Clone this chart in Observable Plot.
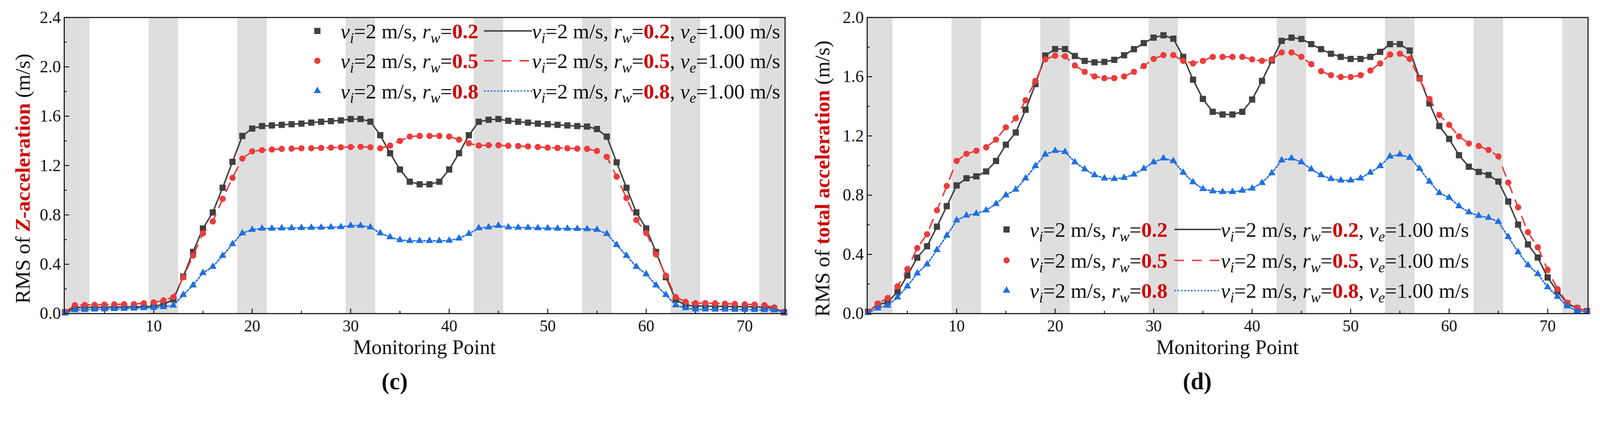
<!DOCTYPE html>
<html>
<head>
<meta charset="utf-8">
<script src="https://cdn.jsdelivr.net/npm/d3@7"></script>
<script src="https://cdn.jsdelivr.net/npm/@observablehq/plot@0.6"></script>
<style>
  html, body { margin: 0; padding: 0; background: #fff; overflow: hidden; }
  #wrap { display: flex; width: 100vw; }
  #wrap svg { width: 50vw; max-width: none; height: auto; display: block; }
  svg text { font-family: "Liberation Serif", "Times New Roman", serif; }
</style>
</head>
<body>
<div id="wrap"><div id="c"></div><div id="d"></div></div>
<script>
// monitoring points 1..74
const points = d3.range(1, 75);

// shaded zones along the track
const bandFrom = [0.5, 9.5, 18.5, 29.5, 42.5, 53.5, 62.5, 71.5];
const bandTo   = [3.5, 12.5, 21.5, 32.5, 45.5, 56.5, 65.5, 74.5];

const xMajor = [10, 20, 30, 40, 50, 60, 70];
const xMinor = [5, 15, 25, 35, 45, 55, 65];

// (c) RMS of Z-acceleration
const zRw02 = [0.01,0.05,0.05,0.052,0.052,0.053,0.054,0.055,0.056,0.058,0.075,0.115,0.30,0.50,0.69,0.82,1.02,1.23,1.44,1.50,
  1.52,1.525,1.53,1.535,1.54,1.548,1.555,1.56,1.566,1.577,1.577,1.556,1.446,1.30,1.168,1.069,1.048,1.048,1.069,1.168,
  1.30,1.446,1.555,1.571,1.577,1.563,1.555,1.548,1.54,1.535,1.53,1.525,1.52,1.516,1.496,1.435,1.226,1.02,0.82,0.69,
  0.50,0.295,0.113,0.068,0.062,0.06,0.06,0.058,0.057,0.056,0.055,0.052,0.04,0.01];
const zRw05 = [0.015,0.068,0.07,0.071,0.073,0.075,0.076,0.077,0.084,0.09,0.107,0.134,0.295,0.47,0.65,0.747,0.93,1.10,1.257,1.315,
  1.325,1.33,1.335,1.337,1.34,1.34,1.343,1.345,1.348,1.35,1.352,1.348,1.34,1.362,1.40,1.435,1.44,1.44,1.44,1.435,
  1.41,1.38,1.362,1.365,1.365,1.36,1.358,1.355,1.35,1.345,1.343,1.34,1.337,1.335,1.318,1.27,1.11,0.937,0.758,0.653,
  0.48,0.307,0.134,0.095,0.085,0.085,0.083,0.08,0.078,0.075,0.073,0.068,0.05,0.01];
const zRw08 = [0.005,0.029,0.032,0.034,0.036,0.038,0.04,0.042,0.045,0.048,0.054,0.066,0.152,0.23,0.33,0.38,0.47,0.564,0.652,0.68,
  0.69,0.69,0.692,0.694,0.695,0.697,0.698,0.70,0.702,0.713,0.713,0.70,0.652,0.62,0.597,0.59,0.59,0.59,0.59,0.592,
  0.61,0.647,0.693,0.70,0.713,0.70,0.698,0.697,0.694,0.692,0.69,0.689,0.687,0.686,0.68,0.647,0.557,0.47,0.38,0.32,
  0.23,0.152,0.068,0.045,0.035,0.034,0.033,0.033,0.032,0.031,0.03,0.03,0.028,0.01];

// (d) RMS of total acceleration
const totRw02 = [0.012,0.06,0.077,0.147,0.258,0.378,0.455,0.587,0.726,0.866,0.914,0.927,0.96,1.031,1.141,1.223,1.377,1.55,1.743,1.787,
  1.787,1.74,1.707,1.697,1.70,1.714,1.745,1.786,1.827,1.864,1.88,1.857,1.734,1.58,1.45,1.363,1.345,1.345,1.363,1.446,
  1.572,1.71,1.842,1.864,1.855,1.82,1.786,1.755,1.734,1.72,1.72,1.734,1.768,1.82,1.82,1.777,1.59,1.42,1.267,1.18,
  1.07,0.992,0.957,0.936,0.892,0.757,0.601,0.467,0.379,0.244,0.15,0.068,0.036,0.017];
const totRw05 = [0.01,0.068,0.105,0.184,0.30,0.443,0.536,0.698,0.862,1.031,1.079,1.10,1.123,1.175,1.258,1.319,1.441,1.572,1.717,1.742,
  1.738,1.676,1.633,1.602,1.59,1.59,1.602,1.633,1.672,1.72,1.746,1.746,1.707,1.69,1.707,1.734,1.734,1.734,1.734,1.717,
  1.707,1.717,1.764,1.764,1.734,1.685,1.637,1.61,1.598,1.598,1.61,1.642,1.69,1.75,1.755,1.72,1.585,1.45,1.341,1.275,
  1.197,1.149,1.132,1.105,1.062,0.885,0.718,0.55,0.448,0.296,0.166,0.073,0.04,0.017];
const totRw08 = [0.005,0.036,0.055,0.11,0.184,0.272,0.333,0.43,0.527,0.63,0.663,0.676,0.698,0.741,0.80,0.838,0.914,0.997,1.075,1.10,
  1.093,1.023,0.975,0.936,0.914,0.91,0.918,0.94,0.979,1.023,1.049,1.031,0.953,0.888,0.842,0.827,0.822,0.822,0.831,0.845,
  0.883,0.949,1.036,1.049,1.023,0.975,0.936,0.91,0.90,0.90,0.914,0.953,0.997,1.062,1.075,1.053,0.979,0.892,0.815,0.783,
  0.726,0.685,0.661,0.648,0.62,0.518,0.416,0.328,0.268,0.179,0.114,0.05,0.017,0.012];

const rwLabels = ["0.2", "0.5", "0.8"];

const styles = [
  {color: "#404040", symbol: "square", r: 9.5, dash: null},
  {color: "#ee3b3b", symbol: "circle", r: 8.5, dash: "26,22"},
  {color: "#1f6fe0", symbol: "triangle", r: 7.5, dash: "4,5"}
];

const bands = bandFrom.map((f, i) => ({from: f, to: bandTo[i]}));
const rows = vals => points.map((p, i) => ({point: p, value: vals[i]}));

function panel(series, ymax, yMajor, yMinor, marginLeft, marginRight) {
  const marks = [
    Plot.rect(bands, {x1: "from", x2: "to", y1: 0, y2: ymax, fill: "#dedede", clip: true}),
    Plot.axisX({ticks: xMajor, tickSize: -13, tickPadding: 30, strokeWidth: 2.5, label: null, fontSize: 44}),
    Plot.axisX({ticks: xMinor, tickSize: -7, tickFormat: () => "", strokeWidth: 2.5, label: null}),
    Plot.axisY({ticks: yMajor, tickSize: -14, tickPadding: 23, strokeWidth: 2.5, tickFormat: d3.format(".1f"), label: null, fontSize: 46}),
    Plot.axisY({ticks: yMinor, tickSize: -7, tickFormat: () => "", strokeWidth: 2.5, label: null})
  ];
  series.forEach((vals, i) => {
    const s = styles[i];
    marks.push(Plot.line(rows(vals), {x: "point", y: "value", stroke: s.color, strokeWidth: 4, strokeDasharray: s.dash}));
    marks.push(Plot.dot(rows(vals), {x: "point", y: "value", symbol: s.symbol, r: s.r, fill: s.color}));
  });
  marks.push(Plot.frame({stroke: "#1a1a1a", strokeWidth: 3}));
  return Plot.plot({
    width: 2173,
    height: 1085,
    marginTop: 47,
    marginBottom: 234,
    marginLeft,
    marginRight,
    style: {fontFamily: "Liberation Serif", fontSize: "46px", color: "#111", background: "#fff"},
    x: {domain: [0.92, 74.1]},
    y: {domain: [0, ymax]},
    marks
  });
}

// text with italic symbols, subscripts and red bold values
function rich(sel, parts, size) {
  parts.forEach(p => {
    const t = sel.append("tspan").text(p.t);
    if (p.i) t.attr("font-style", "italic");
    if (p.b) t.attr("font-weight", "bold");
    if (p.red) t.attr("fill", "#d00000");
    if (p.sub) t.attr("font-size", size * 0.7).attr("dy", size * 0.22);
    if (p.up) t.attr("dy", -size * 0.22);
  });
}

function legendParts(rw, full) {
  const parts = [
    {t: "v", i: true}, {t: "i", i: true, sub: true}, {t: "=2 m/s, ", up: true},
    {t: "r", i: true}, {t: "w", i: true, sub: true}, {t: "=", up: true}, {t: rw, b: true, red: true}
  ];
  if (full) parts.push({t: ", "}, {t: "v", i: true}, {t: "e", i: true, sub: true}, {t: "=1.00 m/s", up: true});
  return parts;
}

function legend(svg, pos) {
  const g = d3.select(svg).append("g").attr("text-anchor", "start");
  pos.rows.forEach((y, i) => {
    const s = styles[i];
    g.append("path")
      .attr("d", d3.symbol(d3["symbol" + s.symbol[0].toUpperCase() + s.symbol.slice(1)], Math.PI * s.r * s.r)())
      .attr("transform", `translate(${pos.mx},${y})`)
      .attr("fill", s.color);
    g.append("line")
      .attr("x1", pos.lx1).attr("x2", pos.lx2).attr("y1", y).attr("y2", y)
      .attr("stroke", s.color).attr("stroke-width", 4).attr("stroke-dasharray", s.dash);
    const t1 = g.append("text").attr("x", pos.tx1).attr("y", y + 20).attr("font-size", 57).attr("fill", "#111");
    rich(t1, legendParts(rwLabels[i], false), 57);
    const t2 = g.append("text").attr("x", pos.lx2).attr("y", y + 20).attr("font-size", 57).attr("fill", "#111");
    rich(t2, legendParts(rwLabels[i], true), 57);
  });
}

function labels(svg, yParts, ylx, tag, pos) {
  const g = d3.select(svg).append("g").attr("fill", "#111").attr("text-anchor", "middle");
  g.append("text").attr("font-size", 57)
    .attr("transform", `translate(${ylx},485) rotate(-90)`)
    .call(t => rich(t, yParts, 57));
  g.append("text").attr("font-size", 56)
    .attr("x", pos.title).attr("y", 961).text("Monitoring Point");
  g.append("text").attr("font-size", 64).attr("font-weight", "bold")
    .attr("x", pos.tag).attr("y", 1057).text(tag);
}

const chartC = panel([zRw02, zRw05, zRw08], 2.4, d3.range(0, 2.41, 0.4), d3.range(0.2, 2.4, 0.4), 174, 41);
legend(chartC, {mx: 862, tx1: 925, lx1: 1315, lx2: 1445, rows: [84, 165, 247]});
labels(chartC, [{t: "RMS of "}, {t: "Z", i: true, b: true, red: true}, {t: "-acceleration", b: true, red: true}, {t: " (m/s)"}],
  81, "(c)", {title: 1153, tag: 1072});
document.getElementById("c").append(chartC);

const chartD = panel([totRw02, totRw05, totRw08], 2.0, d3.range(0, 2.01, 0.4), d3.range(0.2, 2.0, 0.4), 182, 33);
legend(chartD, {mx: 561, tx1: 624, lx1: 1017, lx2: 1143, rows: [623, 707, 789]});
labels(chartD, [{t: "RMS of "}, {t: "total acceleration", b: true, red: true}, {t: " (m/s)"}],
  80, "(d)", {title: 1161, tag: 1079});
document.getElementById("d").append(chartD);
</script>
</body>
</html>
